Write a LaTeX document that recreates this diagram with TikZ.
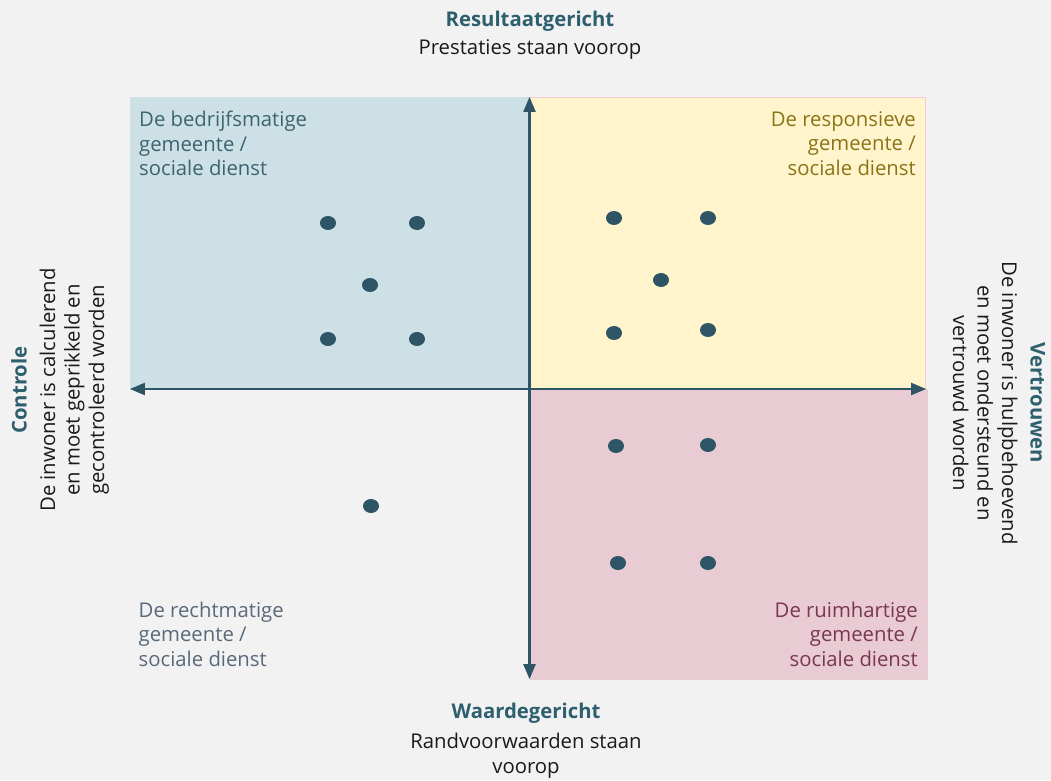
\documentclass[tikz,border=0pt]{standalone}
\usepackage{fontspec}
\setmainfont{Open Sans}
\usetikzlibrary{calc}
\usetikzlibrary{arrows}

\begin{document}
\begin{tikzpicture}[line cap=round,line join=round,>=triangle 45,x=1pt,y=-1pt,
  txt/.style={inner sep=0pt,font=\fontsize{20.3}{24.5}\selectfont},
  dot/.style={fill=qqpfqq}]
\definecolor{sqsqsq}{rgb}{0.949,0.949,0.949}
\definecolor{zzdfeb}{rgb}{0.804,0.878,0.902}
\definecolor{ffzzcc}{rgb}{1.,0.957,0.800}
\definecolor{ebzzdb}{rgb}{0.914,0.796,0.827}
\definecolor{fbzzcc}{rgb}{0.945,0.796,0.812}
\definecolor{qqpfqq}{rgb}{0.180,0.333,0.400}
\definecolor{qtqtqt}{rgb}{0.176,0.373,0.431}
\definecolor{bqbqbq}{rgb}{0.235,0.392,0.439}
\definecolor{okokqq}{rgb}{0.545,0.455,0.086}
\definecolor{rmrmqq}{rgb}{0.478,0.216,0.314}
\definecolor{gbgbgb}{rgb}{0.353,0.412,0.478}
\definecolor{tqtqtq}{rgb}{0.102,0.102,0.102}
\useasboundingbox (0,0) rectangle (1051,780);
\fill[fill=sqsqsq] (0,0) rectangle (1051,780);
% kwadranten
\fill[fill=zzdfeb] (129.5,97) rectangle (529.5,389);
\fill[fill=ffzzcc,draw=fbzzcc,line width=0.8pt] (529.5,97) rectangle (925,389);
\fill[fill=ebzzdb] (529.5,389) rectangle (928,679.5);
% assen
\coordinate (asTop) at (529.5,97);
\coordinate (asBottom) at (529.5,679);
\coordinate (asLeft) at (130,389);
\coordinate (asRight) at (926,389);
\draw [<->,line width=2.5pt,color=qqpfqq] (asBottom)-- (asTop);
\draw [<->,line width=2.5pt,color=qqpfqq] (asLeft)-- (asRight);
% punten
\fill[dot] (328,223) ellipse (8 and 7);
\fill[dot] (417,223) ellipse (8 and 7);
\fill[dot] (370,285) ellipse (8 and 7);
\fill[dot] (328,339) ellipse (8 and 7);
\fill[dot] (417,339) ellipse (8 and 7);
\fill[dot] (614,218) ellipse (8 and 7);
\fill[dot] (708,218) ellipse (8 and 7);
\fill[dot] (661,280) ellipse (8 and 7);
\fill[dot] (614,333) ellipse (8 and 7);
\fill[dot] (708,330) ellipse (8 and 7);
\fill[dot] (616,446) ellipse (8 and 7);
\fill[dot] (708,445) ellipse (8 and 7);
\fill[dot] (618,563) ellipse (8 and 7);
\fill[dot] (708,563) ellipse (8 and 7);
\fill[dot] (371,506) ellipse (8 and 7);
% teksten (base = laatste regel)
\node[txt,anchor=base,align=center,color=tqtqtq] (resTitle) at (530,54.5) {{\color{qtqtqt}\bfseries Resultaatgericht}\\[3.5pt]Prestaties staan voorop};
\node[txt,anchor=base,align=center,color=tqtqtq] (waardeTitle) at (526,773) {{\color{qtqtqt}\bfseries Waardegericht}\\[5.5pt]Randvoorwaarden staan\\voorop};
\node[txt,rotate=90,align=center,color=tqtqtq] (controleTxt) at (60,390) {{\color{qtqtqt}\bfseries Controle}\\[4pt]De inwoner is calculerend\\en moet geprikkeld en\\gecontroleerd worden};
\node[txt,rotate=-90,align=center,color=tqtqtq] (vertrouwenTxt) at (999,403) {{\color{qtqtqt}\bfseries Vertrouwen}\\[4pt]De inwoner is hulpbehoevend\\en moet ondersteund en\\vertrouwd worden};
\node[txt,anchor=base west,align=left,color=bqbqbq] (bedrijfLbl) at (139,175.5) {De bedrijfsmatige\\gemeente /\\sociale dienst};
\node[txt,anchor=base east,align=right,color=okokqq] (responsLbl) at (916,175) {De responsieve\\gemeente /\\sociale dienst};
\node[txt,anchor=base east,align=right,color=rmrmqq] (ruimLbl) at (918,666) {De ruimhartige\\gemeente /\\sociale dienst};
\node[txt,anchor=base west,align=left,color=gbgbgb] (rechtLbl) at (138.5,666) {De rechtmatige\\gemeente /\\sociale dienst};
\end{tikzpicture}
\end{document}
